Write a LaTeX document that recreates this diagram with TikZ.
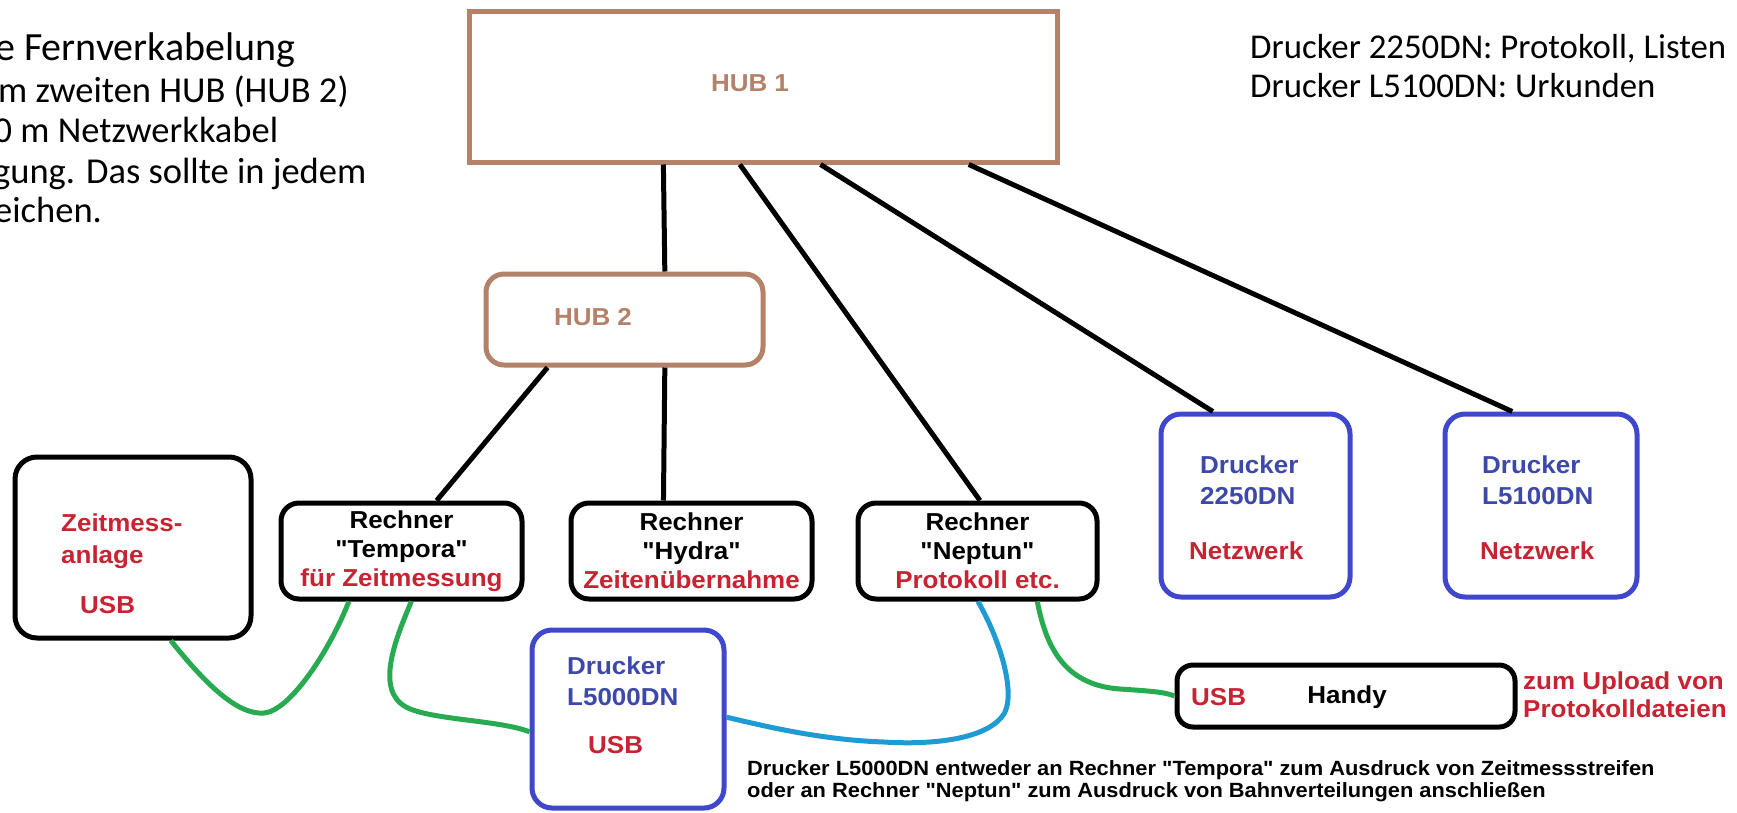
\documentclass[tikz,border=0pt]{standalone}
\usepackage{fontspec}
\setmainfont{Liberation Sans}
\newfontfamily\boxfont[FakeStretch=1.06]{Liberation Sans}
\newfontfamily\calfont{Carlito}
\usetikzlibrary{calc}
\definecolor{hubbrown}{RGB}{180,130,105}
\definecolor{myred}{RGB}{200,35,50}
\definecolor{myblue}{RGB}{63,72,204}
\definecolor{bluetxt}{RGB}{60,72,170}
\definecolor{cablegreen}{RGB}{40,170,80}
\definecolor{cablecyan}{RGB}{30,155,210}
\begin{document}
\begin{tikzpicture}[x=1pt,y=-1pt,
  boxbase/.style={draw, line width=5pt, inner sep=0pt, align=center,
    font=\boxfont\bfseries\fontsize{24.5}{29}\selectfont},
  hubbox/.style={boxbase, draw=hubbrown},
  pcbox/.style={boxbase, draw=black, rounded corners=18pt},
  prbox/.style={boxbase, draw=myblue, rounded corners=20pt},
  lbl/.style={inner sep=0pt, font=\boxfont\bfseries\fontsize{24.5}{31}\selectfont},
  redlbl/.style={lbl, text=myred},
  bluelbl/.style={lbl, text=bluetxt},
  hublbl/.style={lbl, text=hubbrown},
  wire/.style={line width=5pt, black},
  greenwire/.style={line width=5pt, cablegreen},
  cyanwire/.style={line width=5pt, cablecyan},
  caltext/.style={inner sep=0pt, anchor=base west, font=\calfont\fontsize{36.5}{44}\selectfont},
  righttext/.style={inner sep=0pt, anchor=base west, font=\calfont\fontsize{34.8}{42}\selectfont},
  bottomtext/.style={inner sep=0pt, anchor=base west, font=\boxfont\bfseries\fontsize{20.6}{25}\selectfont}
]
\fill[white] (0,0) rectangle (1737,812);
\useasboundingbox (0,0) rectangle (1737,812);

% top-left text (cut at the left edge)
\node[inner sep=0pt, anchor=base west, font=\calfont\fontsize{40}{48}\selectfont] (t1) at (-5,60) {e Fernverkabelung};
\node[caltext] (t2) at (-2,102) {m zweiten HUB (HUB 2)};
\node[caltext] (t3) at (-6.5,142) {0 m Netzwerkkabel};
\node[caltext] (t4) at (-7,183) {gung. Das sollte in jedem};
\node[caltext] (t5) at (-6,222) {eichen.};

% top-right text
\node[righttext] (r1) at (1250,58) {Drucker 2250DN: Protokoll, Listen};
\node[righttext] (r2) at (1250,97) {Drucker L5100DN: Urkunden};

% hubs
\node[hubbox, minimum width=588pt, minimum height=151pt] (hub1) at (763,86.5) {};
\node[hublbl] (hub1l) at (750,83) {HUB 1};
\node[hubbox, rounded corners=18pt, minimum width=277pt, minimum height=91pt] (hub2) at (624.5,319.5) {};
\node[hublbl] (hub2l) at (593,317) {HUB 2};

% Zeitmessanlage
\node[pcbox, rounded corners=22pt, minimum width=236pt, minimum height=181pt] (zeit) at (133,547.5) {};
\node[redlbl, anchor=west, align=left, font=\boxfont\bfseries\fontsize{24.5}{32}\selectfont] (zeitl) at (61,541) {Zeitmess-\\anlage};
\node[redlbl, anchor=west] (zeitu) at (80,605) {USB};

% computers
\node[pcbox, minimum width=241pt, minimum height=96pt] (temp) at (401.5,551)
  {Rechner\\"Tempora"\\\textcolor{myred}{für Zeitmessung}};
\node[pcbox, minimum width=241pt, minimum height=96pt] (hydra) at (691.5,551)
  {Rechner\\"Hydra"\\\textcolor{myred}{Zeitenübernahme}};
\node[pcbox, minimum width=239pt, minimum height=96pt] (nep) at (977.5,551)
  {Rechner\\"Neptun"\\\textcolor{myred}{Protokoll etc.}};

% network printers
\node[prbox, minimum width=189pt, minimum height=183pt] (d2250) at (1255.5,505.5) {};
\node[bluelbl, anchor=west, align=left] (d2250t) at (1200,480.5) {Drucker\\2250DN};
\node[redlbl, anchor=west] (d2250n) at (1189,551) {Netzwerk};
\node[prbox, minimum width=192pt, minimum height=183pt] (d5100) at (1541,505.5) {};
\node[bluelbl, anchor=west, align=left] (d5100t) at (1482,480.5) {Drucker\\L5100DN};
\node[redlbl, anchor=west] (d5100n) at (1480,551) {Netzwerk};

% USB printer
\node[prbox, minimum width=192pt, minimum height=178pt] (d5000) at (628,719) {};
\node[bluelbl, anchor=west, align=left] (d5000t) at (567,681) {Drucker\\L5000DN};
\node[redlbl, anchor=west] (d5000u) at (588,745) {USB};

% Handy
\node[pcbox, rounded corners=16pt, minimum width=338pt, minimum height=62pt] (handy) at (1346,696) {};
\node[redlbl, anchor=west] (handyu) at (1191,697) {USB};
\node[lbl] (handyh) at (1347,697) {Handy};
\node[redlbl, anchor=west, align=left, font=\boxfont\bfseries\fontsize{24.5}{28}\selectfont] (upload) at (1523,695) {zum Upload von\\Protokolldateien};

% bottom note
\node[bottomtext] (note1) at (747,775) {Drucker L5000DN entweder an Rechner "Tempora" zum Ausdruck von Zeitmessstreifen};
\node[bottomtext] (note2) at (747,797) {oder an Rechner "Neptun" zum Ausdruck von Bahnverteilungen anschließen};

% network cables
\draw[wire] ($(hub1.south west)!0.332!(hub1.south east)$) -- ($(hub2.north west)!0.643!(hub2.north east)$);
\draw[wire] ($(hub1.south west)!0.461!(hub1.south east)$) -- ($(nep.north west)!0.51!(nep.north east)$);
\draw[wire] ($(hub1.south west)!0.597!(hub1.south east)$) -- ($(d2250.north west)!0.28!(d2250.north east)$);
\draw[wire] ($(hub1.south west)!0.847!(hub1.south east)$) -- ($(d5100.north west)!0.354!(d5100.north east)$);
\draw[wire] ($(hub2.south west)!0.227!(hub2.south east)$) -- ($(temp.north west)!0.643!(temp.north east)$);
\draw[wire] ($(hub2.south west)!0.643!(hub2.south east)$) -- ($(hydra.north west)!0.386!(hydra.north east)$);

% USB cables
\draw[greenwire] ($(zeit.south west)!0.657!(zeit.south east)$)
  .. controls (210,690) and (240,715) .. (264,713)
  .. controls (290,711) and (330,650) .. ($(temp.south west)!0.286!(temp.south east)$);
\draw[greenwire] ($(temp.south west)!0.54!(temp.south east)$)
  .. controls (395,640) and (375,690) .. (406,707)
  .. controls (430,720) and (500,720) .. ($(d5000.north west)!0.57!(d5000.south west)$);
\draw[cyanwire] ($(nep.south west)!0.502!(nep.south east)$)
  .. controls (1000,640) and (1015,690) .. (1005,712)
  .. controls (990,740) and (930,745) .. (884,742)
  .. controls (820,740) and (760,725) .. ($(d5000.north east)!0.49!(d5000.south east)$);
\draw[greenwire] ($(nep.south west)!0.745!(nep.south east)$)
  .. controls (1045,640) and (1060,685) .. (1120,689)
  .. controls (1150,691) and (1165,692) .. (handy.west);
\end{tikzpicture}
\end{document}
